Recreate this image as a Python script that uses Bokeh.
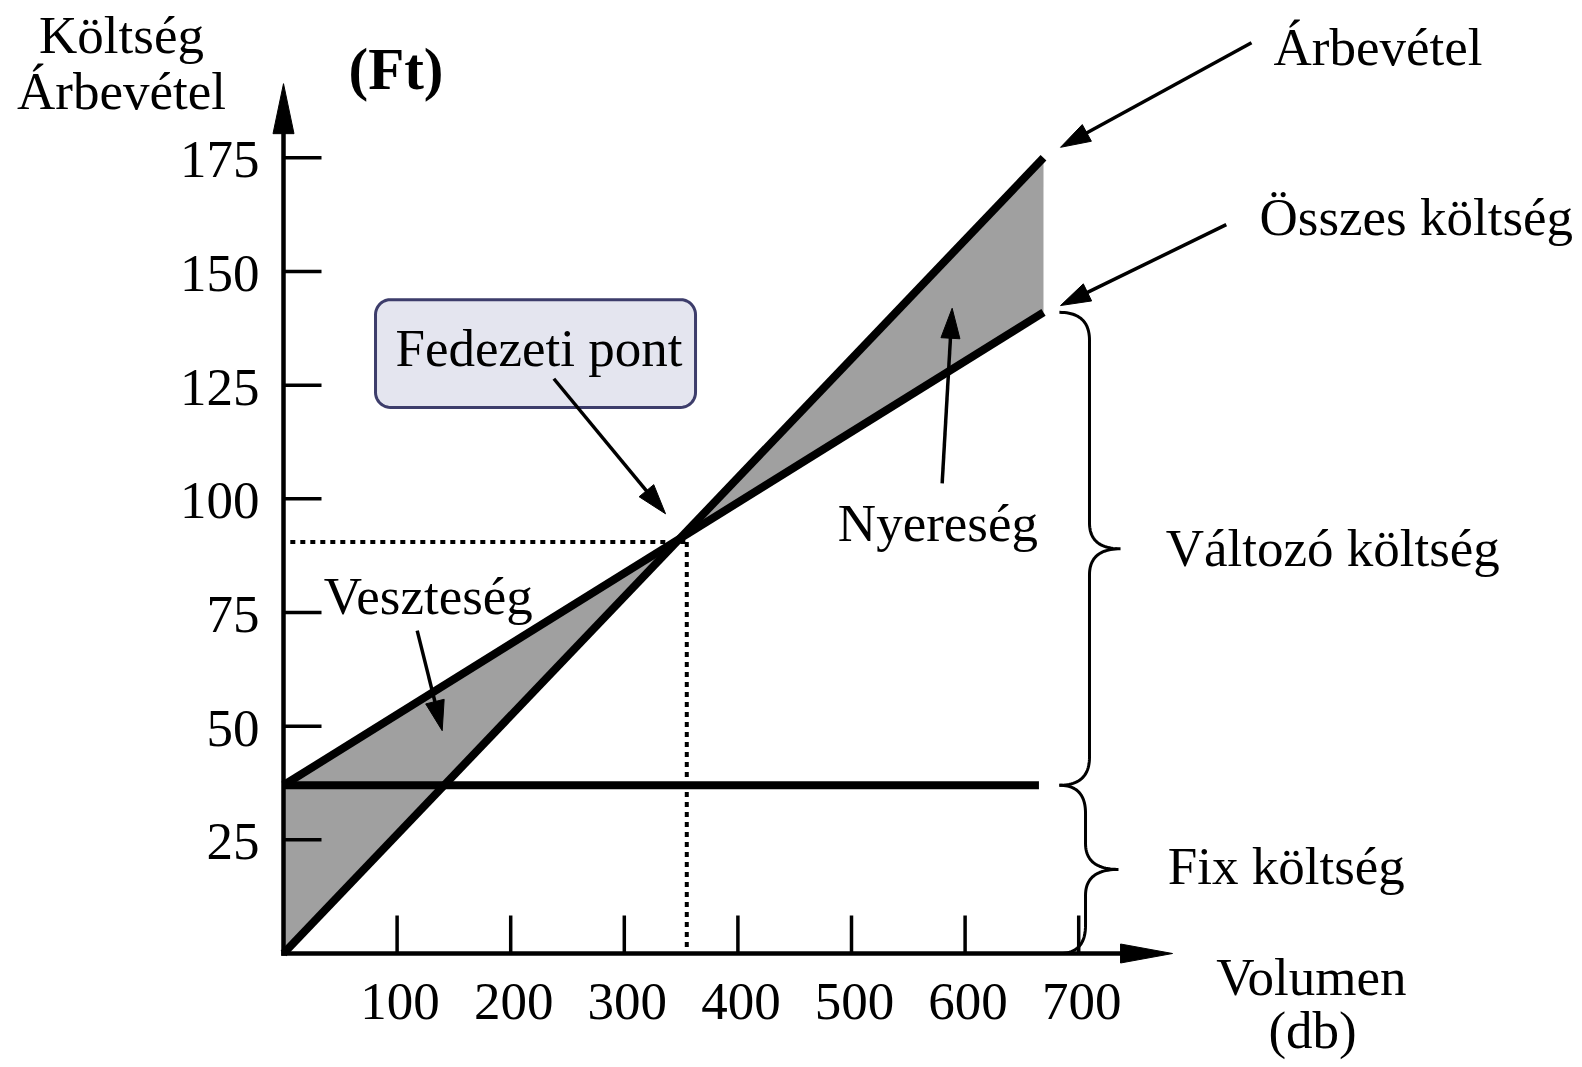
import numpy as np
from bokeh.plotting import figure
from bokeh.models import Range1d
from bokeh.core.properties import value
from bokeh.embed import file_html
from bokeh.resources import INLINE

# ---------------- data ----------------
volume = [0, 669]                 # db
revenue = [0, 175]                # Ft  (Árbevétel)
total_cost = [37, 141]            # Ft  (Összes költség)
fixed_cost = [37, 37]             # Ft  (Fix költség)
fixed_volume = [0, 665]
guide_x = 355                     # dotted guide lines to the break-even point
guide_y = 90.5
y_tick_values = [25, 50, 75, 100, 125, 150, 175]
y_tick_labels = ["25", "50", "75", "100", "125", "150", "175"]
x_tick_values = [100, 200, 300, 400, 500, 600, 700]
x_tick_labels = ["100", "200", "300", "400", "500", "600", "700"]

# ---------------- layout ----------------
W, H = 1582, 1067
PX, PY = 1.136, 4.547      # pixels per data unit
OX, OY = 283, 953          # canvas pixel of the data origin
FONT = value("Liberation Serif")
FS = 53


def mid(y_base, size=FS):
    # convert an alphabetic baseline position to a "middle" baseline position
    return y_base + 0.33 * size / PY


p = figure(width=W, height=H,
           x_range=Range1d(-OX / PX, (W - OX) / PX),
           y_range=Range1d(-(H - OY) / PY, OY / PY),
           output_backend="svg", toolbar_location=None, min_border=0,
           x_axis_location=None, y_axis_location=None)
p.grid.visible = False
p.outline_line_color = None
p.background_fill_color = "white"
p.border_fill_color = "white"


def qbez(p0, p1, p2, n=24):
    t = np.linspace(0, 1, n)
    x = (1 - t) ** 2 * p0[0] + 2 * (1 - t) * t * p1[0] + t ** 2 * p2[0]
    y = (1 - t) ** 2 * p0[1] + 2 * (1 - t) * t * p1[1] + t ** 2 * p2[1]
    return list(x), list(y)


def arrow(tail, tip, L=30, Wd=19, lw=3.5):
    tx, ty = tail
    hx, hy = tip
    vx, vy = (hx - tx) * PX, (hy - ty) * PY
    n = np.hypot(vx, vy)
    ux, uy = vx / n, vy / n
    nx, ny = -uy, ux
    bx, by = -ux * L, -uy * L
    xs = [hx, hx + (bx + nx * Wd / 2) / PX, hx + (bx - nx * Wd / 2) / PX]
    ys = [hy, hy + (by + ny * Wd / 2) / PY, hy + (by - ny * Wd / 2) / PY]
    sx, sy = hx - ux * (L - 4) / PX, hy - uy * (L - 4) / PY
    if lw > 0.5:
        p.line([tx, sx], [ty, sy], line_width=lw, line_color="black")
    p.patch(xs, ys, fill_color="black", line_color="black", line_width=1)


def brace(x_end, x_spine, x_tip, y_top, y_bot, r_px=28, tip_px=26, lw=3):
    y_mid = (y_top + y_bot) / 2
    r, rt = r_px / PY, tip_px / PY
    xs, ys = [], []
    parts = [
        qbez((x_end, y_top), (x_spine, y_top), (x_spine, y_top - r)),
        ([x_spine, x_spine], [y_top - r, y_mid + rt]),
        qbez((x_spine, y_mid + rt), (x_spine, y_mid), (x_tip, y_mid)),
        qbez((x_tip, y_mid), (x_spine, y_mid), (x_spine, y_mid - rt)),
        ([x_spine, x_spine], [y_mid - rt, y_bot + r]),
        qbez((x_spine, y_bot + r), (x_spine, y_bot), (x_end, y_bot)),
    ]
    for a, b in parts:
        xs += a
        ys += b
    p.line(xs, ys, line_width=lw, line_color="black")


# ---------------- shaded areas ----------------
r_slope = (revenue[1] - revenue[0]) / (volume[1] - volume[0])
c_slope = (total_cost[1] - total_cost[0]) / (volume[1] - volume[0])
be_x = (total_cost[0] - revenue[0]) / (r_slope - c_slope)
be_y = revenue[0] + r_slope * be_x
p.patch([volume[0], volume[0], be_x], [revenue[0], total_cost[0], be_y],
        fill_color="#a0a0a0", line_color=None)
p.patch([be_x, volume[1], volume[1]], [be_y, revenue[1], total_cost[1]],
        fill_color="#a0a0a0", line_color=None)

# ---------------- dotted guides ----------------
p.line([6, guide_x], [guide_y, guide_y], line_width=4, line_dash="5 5", line_color="black")
p.line([guide_x, guide_x], [guide_y, 0], line_width=4, line_dash="5 5", line_color="black")

# ---------------- main lines ----------------
p.line(fixed_volume, fixed_cost, line_width=8, line_color="black", line_cap="butt")
p.line(volume, total_cost, line_width=8, line_color="black", line_cap="butt")
p.line(volume, revenue, line_width=8, line_color="black", line_cap="butt")

# ---------------- axes ----------------
x_tip = 782.6
y_tip = 191.3
p.line([0, x_tip - 40 / PX], [0, 0], line_width=4.5, line_color="black", line_cap="square")
p.line([0, 0], [0, y_tip - 40 / PY], line_width=4.5, line_color="black", line_cap="square")
arrow((0, 0), (x_tip, 0), L=52, Wd=19, lw=0)
arrow((0, 0), (0, y_tip), L=50, Wd=21, lw=0)

tick_px = 38
p.segment(x0=[0] * len(y_tick_values), y0=y_tick_values,
          x1=[tick_px / PX] * len(y_tick_values), y1=y_tick_values,
          line_width=3.5, line_color="black")
p.segment(x0=x_tick_values, y0=[0] * len(x_tick_values),
          x1=x_tick_values, y1=[tick_px / PY] * len(x_tick_values),
          line_width=3.5, line_color="black")

p.text(x=[-21.1] * len(y_tick_values), y=y_tick_values, text=y_tick_labels,
       text_font=FONT, text_font_size=f"{FS}px", text_align="right",
       text_baseline="middle", y_offset=2, text_color="black")
p.text(x=x_tick_values, y=[mid(-14.5)] * len(x_tick_values), text=x_tick_labels,
       text_font=FONT, text_font_size=f"{FS}px", text_align="center",
       text_baseline="middle", x_offset=3, text_color="black")

# axis titles
p.text(x=[-142.6, -142.6], y=[mid(198.2), mid(185.8)], text=["Költség", "Árbevétel"],
       text_font=FONT, text_font_size=f"{FS}px", text_align="center",
       text_baseline="middle", text_color="black")
p.text(x=[57.2], y=[mid(190.2, 59)], text=["(Ft)"], text_font=FONT, text_font_size="59px",
       text_font_style="bold", text_align="left", text_baseline="middle",
       text_color="black")
p.text(x=[821.0, 867.0], y=[mid(-9.0), mid(-20.6)], text=["Volumen", "(db)"],
       text_font=FONT, text_font_size=f"{FS}px", text_align="left",
       text_baseline="middle", text_color="black")

# ---------------- rounded label box ----------------
bl, br_, bt, bb = 81.0, 362.7, 143.8, 120.1
rad = 15
t = np.linspace(0, np.pi / 2, 12)
bx, byy = [], []
for (cx, cy, a0) in [(br_ - rad / PX, bt - rad / PY, 0.0),
                     (bl + rad / PX, bt - rad / PY, np.pi / 2),
                     (bl + rad / PX, bb + rad / PY, np.pi),
                     (br_ - rad / PX, bb + rad / PY, 1.5 * np.pi)]:
    bx += list(cx + rad * np.cos(a0 + t) / PX)
    byy += list(cy + rad * np.sin(a0 + t) / PY)
p.patch(bx, byy, fill_color="#e4e5ef", line_color="#3d3d6b", line_width=3)
p.text(x=[98.6], y=[mid(129.3)], text=["Fedezeti pont"], text_font=FONT,
       text_font_size=f"{FS}px", text_align="left", text_baseline="middle",
       text_color="black")

# ---------------- annotation arrows ----------------
arrow((852.1, 200.3), (684.0, 177.3))   # Árbevétel
arrow((829.9, 160.3), (684.0, 142.5))   # Összes költség
arrow((238.0, 126.4), (336.3, 96.7))    # Fedezeti pont
arrow((579.8, 103.4), (588.6, 141.9))   # Nyereség
arrow((117.7, 71.0), (139.7, 49.0))     # Veszteség

# ---------------- braces ----------------
brace(683, 709.5, 736.8, total_cost[1], fixed_cost[1])
brace(683, 706, 735, fixed_cost[1], 0)

# ---------------- labels ----------------
lab_y = [195.6, 158.1, 90.9, 74.7, 85.3, 15.4]
p.text(x=[871.5, 859.2, 488.0, 35.5, 776.6, 778.4],
       y=[mid(v) for v in lab_y],
       text=["Árbevétel", "Összes költség", "Nyereség", "Veszteség",
             "Változó költség", "Fix költség"],
       text_font=FONT, text_font_size=f"{FS}px", text_align="left",
       text_baseline="middle", text_color="black")

open("out.html", "w").write(file_html(p, INLINE))
